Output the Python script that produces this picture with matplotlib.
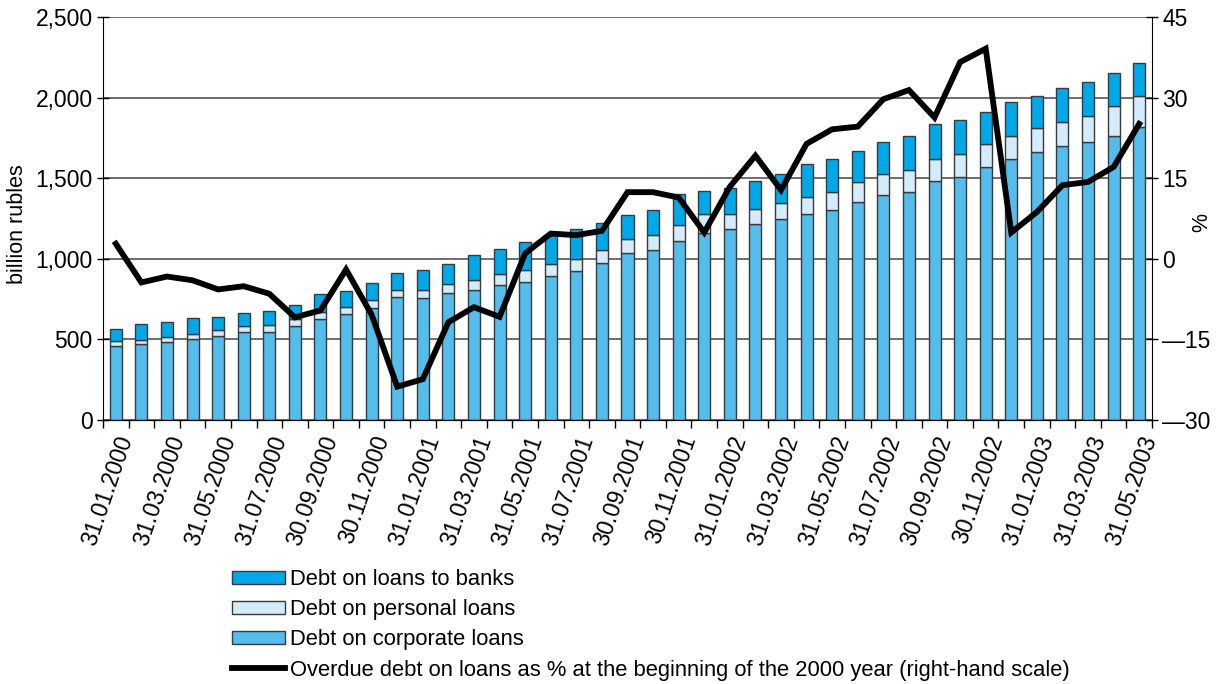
import matplotlib
matplotlib.use("Agg")
import matplotlib.pyplot as plt
import numpy as np
from matplotlib.ticker import FixedLocator, FuncFormatter

plt.rcParams['font.family'] = ['Liberation Sans', 'DejaVu Sans']

# Data (billion rubles): stacked components
corporate = [460, 469, 483, 502, 523, 543, 548, 585, 628, 655, 697, 765, 757, 786,
             807, 838, 854, 896, 923, 975, 1037, 1056, 1109, 1160, 1182, 1213, 1249,
             1276, 1305, 1355, 1394, 1417, 1485, 1508, 1568, 1618, 1663, 1699, 1726,
             1759, 1815]
personal_top = [487, 498, 516, 533, 558, 581, 587, 626, 668, 701, 745, 807, 809, 844,
                869, 904, 929, 969, 1000, 1056, 1122, 1145, 1207, 1280, 1276, 1311, 1348,
                1382, 1417, 1477, 1523, 1548, 1622, 1649, 1715, 1759, 1811, 1846, 1884,
                1948, 2008]
total = [566, 593, 610, 630, 641, 664, 676, 715, 782, 801, 848, 913, 933, 969,
         1025, 1060, 1105, 1150, 1186, 1220, 1271, 1302, 1400, 1421, 1441, 1483, 1525,
         1586, 1622, 1670, 1722, 1759, 1834, 1861, 1910, 1974, 2011, 2059, 2095,
         2151, 2213]
personal = [p - c for p, c in zip(personal_top, corporate)]
banks = [t - p for t, p in zip(total, personal_top)]

# Overdue debt, % (right-hand scale)
overdue_pct = [2.8, -4.4, -3.3, -4.0, -5.7, -5.1, -6.5, -10.9, -9.6, -2.0, -10.4,
               -23.8, -22.4, -11.8, -9.0, -10.8, 1.0, 4.7, 4.4, 5.2, 12.4, 12.4, 11.4,
               4.9, 13.4, 19.2, 12.8, 21.4, 24.1, 24.6, 29.7, 31.4, 26.3, 36.6, 39.1,
               4.9, 8.7, 13.7, 14.3, 17.1, 25.1]

tick_labels = ["31.01.2000", "31.03.2000", "31.05.2000", "31.07.2000", "30.09.2000",
               "30.11.2000", "31.01.2001", "31.03.2001", "31.05.2001", "31.07.2001",
               "30.09.2001", "30.11.2001", "31.01.2002", "31.03.2002", "31.05.2002",
               "31.07.2002", "30.09.2002", "30.11.2002", "31.01.2003", "31.03.2003",
               "31.05.2003"]

c_banks = "#00A8E8"
c_pers = "#D3EBFA"
c_corp = "#55BDEC"
edge = "#3a3a3a"

n = len(total)
x = np.arange(n)

W, H = 1226, 684
fig = plt.figure(figsize=(12.26, 6.84), dpi=100)
ax = fig.add_axes([103 / W, 1 - 420 / H, (1152 - 103) / W, (420 - 17) / H])

ax.set_axisbelow(True)
ax.yaxis.grid(True, color="#555555", linewidth=1.2)
w = 0.47
b1 = ax.bar(x, corporate, w, color=c_corp, edgecolor=edge, linewidth=1.0,
            label="Debt on corporate loans")
b2 = ax.bar(x, personal, w, bottom=corporate, color=c_pers, edgecolor=edge,
            linewidth=1.0, label="Debt on personal loans")
b3 = ax.bar(x, banks, w, bottom=personal_top, color=c_banks, edgecolor=edge,
            linewidth=1.0, label="Debt on loans to banks")

ax.set_xlim(-0.5, n - 0.5)
ax.set_ylim(0, 2500)
ax.set_yticks([0, 500, 1000, 1500, 2000, 2500])
ax.yaxis.set_major_formatter(FuncFormatter(lambda v, p: f"{int(v):,}"))
ax.tick_params(axis='y', direction='inout', length=9, width=1, labelsize=16.5, pad=3)

ax.set_xticks(x[::2])
ax.set_xticklabels(tick_labels, rotation=71, ha='right', va='top',
                   rotation_mode='anchor', fontsize=16.5)
ax.xaxis.set_minor_locator(FixedLocator(np.arange(-0.5, n, 1.0)))
ax.tick_params(axis='x', which='major', length=0, pad=9)
ax.tick_params(axis='x', which='minor', length=6, width=1, direction='out')

ax.spines['top'].set_visible(False)
ax.spines['right'].set_visible(False)

ax2 = ax.twinx()
ln, = ax2.plot(x, overdue_pct, color='black', linewidth=4.2, solid_joinstyle='miter',
               label="Overdue debt on loans as % at the beginning of the 2000 year (right-hand scale)")
ax2.set_ylim(-30, 45)
ax2.set_yticks([-30, -15, 0, 15, 30, 45])
ax2.yaxis.set_major_formatter(FuncFormatter(lambda v, p: ("\u2014" + str(int(-v))) if v < 0 else str(int(v))))
ax2.tick_params(axis='y', direction='inout', length=9, width=1, labelsize=16.5, pad=3)
ax2.spines['top'].set_visible(False)
ax2.spines['left'].set_visible(False)

fig.text(18 / W, 1 - 224 / H, "billion rubles", rotation=90, fontsize=15.5,
         ha='center', va='center')
fig.text(1202 / W, 1 - 222 / H, "%", rotation=90, fontsize=15.5,
         ha='center', va='center')

leg = fig.legend([b3, b2, b1, ln],
                 [b3.get_label(), b2.get_label(), b1.get_label(), ln.get_label()],
                 loc='upper left', bbox_to_anchor=(232 / W, 1 - 569 / H), frameon=False,
                 fontsize=15.8, handlelength=2.42, handleheight=0.56, handletextpad=0.23,
                 labelspacing=0.42, borderpad=0, borderaxespad=0)

fig.savefig("out.png", dpi=100)
